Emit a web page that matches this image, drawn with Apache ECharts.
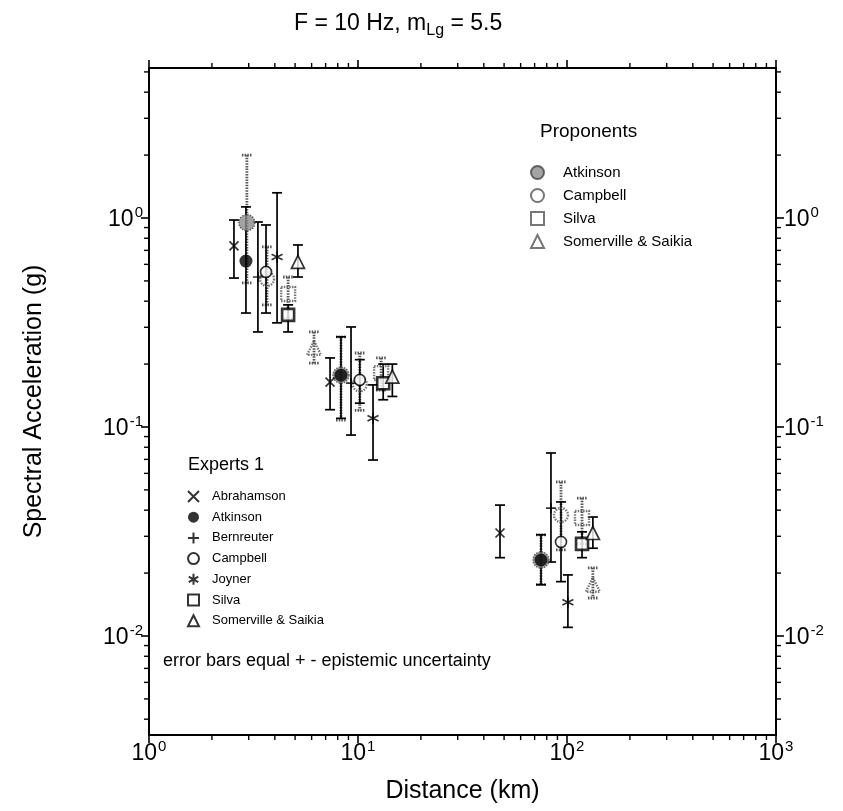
<!DOCTYPE html>
<html><head><meta charset="utf-8">
<script src="https://cdn.jsdelivr.net/npm/echarts@6/dist/echarts.min.js"></script>
</head>
<body style="margin:0;background:#fff">
<div id="c" style="width:843px;height:811px"></div>
<script>
// ---------- data (distance km, spectral acceleration g, error bar low/high) ----------
const expertNames = ['Abrahamson','Atkinson','Bernreuter','Campbell','Joyner','Silva','Somerville & Saikia'];
const propNames = ['Atkinson','Campbell','Silva','Somerville & Saikia'];

const abrahamsonX = [2.55, 7.35, 47.8];
const abrahamsonY = [0.735, 0.164, 0.0311];
const abrahamsonLo = [0.516, 0.121, 0.0237];
const abrahamsonHi = [0.978, 0.214, 0.0423];

const atkinsonX = [2.91, 8.29, 75.1];
const atkinsonY = [0.622, 0.177, 0.0231];
const atkinsonLo = [0.351, 0.110, 0.0176];
const atkinsonHi = [1.13, 0.27, 0.0305];

const bernreuterX = [3.32, 9.26, 83.8];
const bernreuterY = [0.522, 0.162, 0.0409];
const bernreuterLo = [0.285, 0.0915, 0.0226];
const bernreuterHi = [0.957, 0.301, 0.0751];

const campbellX = [3.63, 10.2, 93.6];
const campbellY = [0.552, 0.168, 0.0282];
const campbellLo = [0.351, 0.13, 0.0182];
const campbellHi = [0.926, 0.21, 0.0438];

const joynerX = [4.10, 11.8, 101];
const joynerY = [0.651, 0.110, 0.0145];
const joynerLo = [0.315, 0.0695, 0.0110];
const joynerHi = [1.32, 0.159, 0.0196];

const silvaX = [4.63, 13.2, 118];
const silvaY = [0.344, 0.162, 0.0276];
const silvaLo = [0.285, 0.135, 0.0237];
const silvaHi = [0.384, 0.20, 0.0315];

const somervilleX = [5.16, 14.6, 133];
const somervilleY = [0.616, 0.174, 0.0311];
const somervilleLo = [0.522, 0.14, 0.0263];
const somervilleHi = [0.743, 0.20, 0.0371];

// proponents
const pAtkinsonX = [2.94, 8.29, 75.1];
const pAtkinsonY = [0.95, 0.177, 0.0231];
const pAtkinsonLo = [0.489, 0.108, 0.0176];
const pAtkinsonHi = [2.0, 0.27, 0.0305];

const pCampbellX = [3.67, 10.2, 93.6];
const pCampbellY = [0.511, 0.16, 0.0379];
const pCampbellLo = [0.384, 0.12, 0.0258];
const pCampbellHi = [0.727, 0.226, 0.0546];

const pSilvaX = [4.63, 12.9, 118];
const pSilvaY = [0.433, 0.181, 0.0367];
const pSilvaLo = [0.33, 0.15, 0.0276];
const pSilvaHi = [0.522, 0.214, 0.0457];

const pSomervilleX = [6.16, 133];
const pSomervilleY = [0.239, 0.0176];
const pSomervilleLo = [0.202, 0.0152];
const pSomervilleHi = [0.285, 0.0212];

// axis ranges and minor tick values
const xMin = 1, xMax = 1000;
const yMin = 0.00336, yMax = 5.22;
const xMinorTicks = [2,3,4,5,6,7,8,9,20,30,40,50,60,70,80,90,200,300,400,500,600,700,800,900];
const yMinorTicks = [0.004,0.005,0.006,0.007,0.008,0.009,0.02,0.03,0.04,0.05,0.06,0.07,0.08,0.09,0.2,0.3,0.4,0.5,0.6,0.7,0.8,0.9,2,3,4,5];

// ---------- styling ----------
const FONT = 'Liberation Sans, Arial, Helvetica, sans-serif';
const SYM = {
  cross: 'path://M0,0L10,10M10,0L0,10',
  plus: 'path://M5,0L5,10M0,5L10,5',
  star: 'path://M5,0L5,10M0.7,2.5L9.3,7.5M9.3,2.5L0.7,7.5'
};
const solidBar = {stroke:'#000', lineWidth:1.7};
const hatchBar = {stroke:'#555', lineWidth:2.8, lineDash:[1.5,1.2]};

function pts(xs, ys){ return xs.map((x,i)=>[x, ys[i]]); }

function errSeries(name, xs, lo, hi, st){
  return {
    type:'custom', name:name, coordinateSystem:'cartesian2d', silent:true, z:2,
    clip:false,
    data: xs.map((x,i)=>[x, lo[i], hi[i]]),
    encode:{x:0, y:[1,2]},
    renderItem:function(params, api){
      const a = api.coord([api.value(0), api.value(2)]);
      const b = api.coord([api.value(0), api.value(1)]);
      const w = 5;
      return {type:'group', children:[
        {type:'line', shape:{x1:a[0],y1:a[1],x2:b[0],y2:b[1]}, style:st},
        {type:'line', shape:{x1:a[0]-w,y1:a[1],x2:a[0]+w,y2:a[1]}, style:st},
        {type:'line', shape:{x1:b[0]-w,y1:b[1],x2:b[0]+w,y2:b[1]}, style:st}
      ]};
    }
  };
}

function scat(name, xs, ys, symbol, size, itemStyle, z){
  return {type:'scatter', name:name, data:pts(xs,ys), symbol:symbol, symbolSize:size,
    itemStyle:itemStyle, z:z||5, silent:true};
}

const expertLine = {color:'#000', borderColor:'#000', borderWidth:1.7};
const openBlack = {color:'#fff', borderColor:'#000', borderWidth:1.7};
const propOpen = {color:'rgba(255,255,255,0)', borderColor:'#555', borderWidth:2.4, borderType:[1.5,1.2]};
const propFill = {color:'#8c8c8c', borderColor:'#444', borderWidth:1.5, borderType:[1.5,1.2]};

const series = [
  errSeries('pAtkErr', pAtkinsonX, pAtkinsonLo, pAtkinsonHi, hatchBar),
  errSeries('pCamErr', pCampbellX, pCampbellLo, pCampbellHi, hatchBar),
  errSeries('pSilErr', pSilvaX, pSilvaLo, pSilvaHi, hatchBar),
  errSeries('pSomErr', pSomervilleX, pSomervilleLo, pSomervilleHi, hatchBar),
  errSeries('abrErr', abrahamsonX, abrahamsonLo, abrahamsonHi, solidBar),
  errSeries('atkErr', atkinsonX, atkinsonLo, atkinsonHi, solidBar),
  errSeries('berErr', bernreuterX, bernreuterLo, bernreuterHi, solidBar),
  errSeries('camErr', campbellX, campbellLo, campbellHi, solidBar),
  errSeries('joyErr', joynerX, joynerLo, joynerHi, solidBar),
  errSeries('silErr', silvaX, silvaLo, silvaHi, solidBar),
  errSeries('somErr', somervilleX, somervilleLo, somervilleHi, solidBar),
  scat('P:Atkinson', pAtkinsonX, pAtkinsonY, 'circle', 16, propFill, 4),
  scat('P:Campbell', pCampbellX, pCampbellY, 'circle', 14, propOpen, 4),
  scat('P:Silva', pSilvaX, pSilvaY, 'rect', 14, propOpen, 4),
  scat('P:Somerville & Saikia', pSomervilleX, pSomervilleY, 'triangle', 14, propOpen, 4),
  scat('Abrahamson', abrahamsonX, abrahamsonY, SYM.cross, 9, expertLine),
  scat('Atkinson', atkinsonX, atkinsonY, 'circle', 13, {color:'#000'}),
  scat('Bernreuter', bernreuterX, bernreuterY, SYM.plus, 10, expertLine),
  scat('Campbell', campbellX, campbellY, 'circle', 11, openBlack),
  scat('Joyner', joynerX, joynerY, SYM.star, 11, expertLine),
  scat('Silva', silvaX, silvaY, 'rect', 12, {color:'#fff', borderColor:'#000', borderWidth:2.6}),
  scat('Somerville & Saikia', somervilleX, somervilleY, 'triangle', 13, openBlack),
  {type:'custom', name:'xminor', silent:true, clip:false, z:10,
    data: xMinorTicks.map(v=>[v, 1]),
    renderItem:function(params, api){
      const cs = params.coordSys;
      const p = api.coord([api.value(0), 1]);
      const st = {stroke:'#000', lineWidth:1.4};
      return {type:'group', children:[
        {type:'line', shape:{x1:p[0], y1:cs.y+cs.height, x2:p[0], y2:cs.y+cs.height+5}, style:st},
        {type:'line', shape:{x1:p[0], y1:cs.y, x2:p[0], y2:cs.y-5}, style:st}
      ]};
    }},
  {type:'custom', name:'yminor', silent:true, clip:false, z:10,
    data: yMinorTicks.map(v=>[1, v]),
    renderItem:function(params, api){
      const cs = params.coordSys;
      const p = api.coord([1, api.value(1)]);
      const st = {stroke:'#000', lineWidth:1.4};
      return {type:'group', children:[
        {type:'line', shape:{x1:cs.x, y1:p[1], x2:cs.x-5, y2:p[1]}, style:st},
        {type:'line', shape:{x1:cs.x+cs.width, y1:p[1], x2:cs.x+cs.width+5, y2:p[1]}, style:st}
      ]};
    }}
];

function powLabel(v){
  const e = Math.round(Math.log10(v));
  return '{b|10}{s|' + e + '}';
}
const labelRich = {
  b:{fontSize:23, fontFamily:FONT, color:'#000', verticalAlign:'bottom', lineHeight:26},
  s:{fontSize:15, fontFamily:FONT, color:'#000', verticalAlign:'top', lineHeight:26, padding:[0,0,0,1]}
};
const axLine = {show:true, lineStyle:{color:'#000', width:2}};
const axTick = {show:true, inside:false, length:8, lineStyle:{color:'#000', width:1.6}};

const chart = echarts.init(document.getElementById('c'));
chart.setOption({
  animation:false,
  backgroundColor:'#fff',
  textStyle:{fontFamily:FONT},
  title:{
    text:'F = 10 Hz, m{sub|Lg} = 5.5', left:289, top:3,
    textStyle:{fontSize:23, fontWeight:'normal', color:'#000', fontFamily:FONT,
      rich:{sub:{fontSize:16, fontFamily:FONT, color:'#000', verticalAlign:'top', padding:[15,0,0,0]}}}
  },
  grid:{left:149, right:67, top:68, bottom:76},
  xAxis:[
    {type:'log', logBase:10, min:xMin, max:xMax, position:'bottom',
     axisLine:axLine, axisTick:axTick, splitLine:{show:false},
     axisLabel:{formatter:powLabel, rich:labelRich, margin:4},
     name:'Distance (km)', nameLocation:'middle', nameGap:44,
     nameTextStyle:{fontSize:25, color:'#000', fontFamily:FONT}},
    {type:'log', logBase:10, min:xMin, max:xMax, position:'top',
     axisLine:axLine, axisTick:axTick, splitLine:{show:false}, axisLabel:{show:false}}
  ],
  yAxis:[
    {type:'log', logBase:10, min:yMin, max:yMax, position:'left',
     axisLine:axLine, axisTick:axTick, splitLine:{show:false},
     axisLabel:{formatter:powLabel, rich:labelRich, margin:6, showMinLabel:false, showMaxLabel:false},
     name:'Spectral Acceleration (g)', nameLocation:'middle', nameGap:102, nameRotate:90,
     nameTextStyle:{fontSize:25, color:'#000', fontFamily:FONT}},
    {type:'log', logBase:10, min:yMin, max:yMax, position:'right',
     axisLine:axLine, axisTick:axTick, splitLine:{show:false},
     axisLabel:{formatter:powLabel, rich:labelRich, margin:8, showMinLabel:false, showMaxLabel:false}}
  ],
  legend:[
    {data:expertNames, orient:'vertical', left:182, top:485, itemWidth:11, itemHeight:11, itemGap:7.7,
     selectedMode:false,
     textStyle:{fontSize:13, color:'#000', fontFamily:FONT, padding:[0,0,0,8]}},
    {data:propNames.map(n=>'P:'+n), orient:'vertical', left:525, top:160, itemWidth:13, itemHeight:13, itemGap:8,
     selectedMode:false, formatter:function(n){return n.replace('P:','');},
     textStyle:{fontSize:15, color:'#000', fontFamily:FONT, padding:[0,0,0,14]}}
  ],
  graphic:[
    {type:'text', left:188, top:456, style:{text:'Experts 1', fontSize:18, fill:'#000', fontFamily:FONT}},
    {type:'text', left:540, top:122, style:{text:'Proponents', fontSize:19, fill:'#000', fontFamily:FONT}},
    {type:'text', left:163, top:652, style:{text:'error bars equal + - epistemic uncertainty', fontSize:18, fill:'#000', fontFamily:FONT}}
  ],
  series:series
});
</script>
</body></html>
